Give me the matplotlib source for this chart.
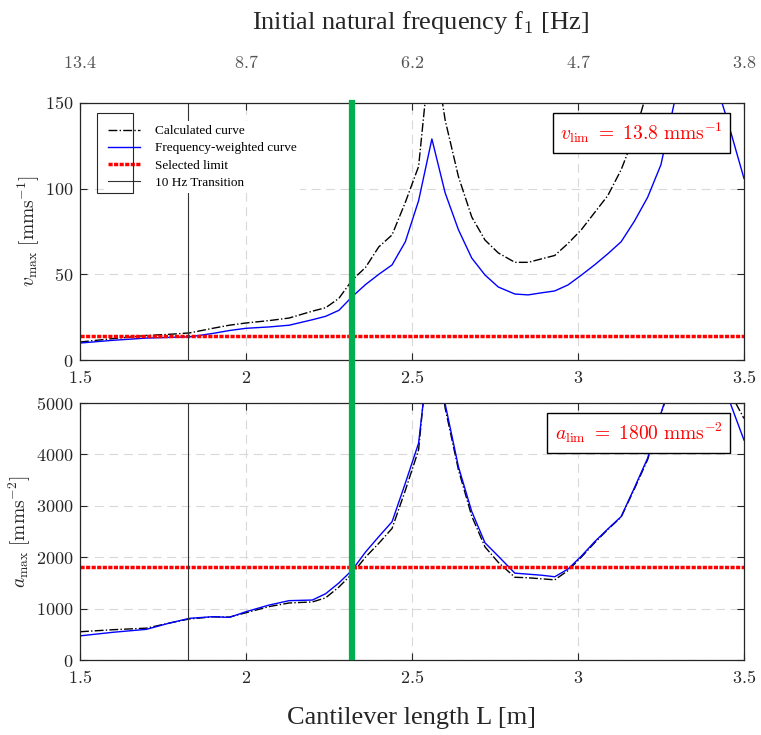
import numpy as np
import matplotlib
matplotlib.use('Agg')
import matplotlib.pyplot as plt
import matplotlib.ticker as ticker
import matplotlib.transforms as mtransforms
from matplotlib.lines import Line2D
from matplotlib.patches import Rectangle

plt.rcParams['font.family'] = ['Liberation Serif', 'DejaVu Serif']
plt.rcParams['mathtext.fontset'] = 'cm'

# Cantilever length [m]
L = [1.50, 1.60, 1.70, 1.77, 1.83, 1.90, 1.95, 2.00, 2.07, 2.13, 2.20, 2.24, 2.28, 2.32,
     2.36, 2.40, 2.44, 2.48, 2.52, 2.56, 2.60, 2.64, 2.68, 2.72, 2.76, 2.81, 2.85, 2.89,
     2.93, 2.97, 3.01, 3.05, 3.09, 3.13, 3.17, 3.21, 3.25, 3.29, 3.33, 3.37, 3.41, 3.45, 3.50]

# peak velocity [mm/s]
v_calc = [10.5, 12.5, 14.3, 15.0, 15.8, 18.5, 20.3, 21.6, 23.0, 24.5, 28.5, 30.5, 36.0, 46.7,
          54.0, 66.0, 73.0, 92.0, 113.0, 190.0, 140.0, 107.0, 83.5, 70.0, 62.5, 57.0, 57.0, 59.0,
          61.0, 68.0, 76.0, 86.0, 96.0, 111.0, 131.0, 158.0, 190.0, 230.0, 260.0, 270.0, 240.0, 200.0, 170.0]
v_weighted = [9.9, 11.5, 12.8, 13.2, 13.5, 15.5, 17.2, 18.5, 19.3, 20.3, 23.5, 25.5, 29.0, 37.0,
              44.0, 50.0, 55.5, 69.0, 93.0, 129.0, 97.5, 76.0, 59.5, 49.6, 42.6, 38.5, 38.0, 39.2,
              40.3, 43.8, 49.5, 55.5, 62.0, 69.0, 81.0, 95.0, 114.0, 150.0, 190.0, 200.0, 165.0, 140.0, 106.0]

# peak acceleration [mm/s^2]
a_calc = [550, 590, 620, 720, 800, 840, 835, 920, 1040, 1110, 1130, 1210, 1420, 1680,
          2000, 2270, 2560, 3300, 4090, 6800, 4900, 3700, 2800, 2200, 1900, 1610, 1600, 1580,
          1560, 1740, 2000, 2280, 2540, 2780, 3330, 3900, 4780, 5600, 6300, 6500, 6000, 5300, 4700]
a_weighted = [470, 540, 597, 720, 811, 843, 830, 940, 1070, 1155, 1167, 1290, 1500, 1750,
              2100, 2400, 2690, 3440, 4220, 6500, 4980, 3760, 2890, 2280, 2020, 1690, 1670, 1650,
              1620, 1770, 2020, 2300, 2550, 2790, 3350, 3930, 4800, 5600, 6200, 6400, 5900, 5150, 4280]

v_lim = 13.8
a_lim = 1800
L_transition = 1.825   # 10 Hz
L_selected = 2.32

x_ticks = [1.5, 2, 2.5, 3, 3.5]
freq_labels = ['13.4', '8.7', '6.2', '4.7', '3.8']

fig = plt.figure(figsize=(7.61, 7.35), dpi=100)
ax1 = fig.add_axes([0.1051, 0.5102, 0.8725, 0.3497])
ax2 = fig.add_axes([0.1051, 0.1020, 0.8725, 0.3497])

mfmt = ticker.FuncFormatter(lambda v, p: f'${v:g}$')

def style_axes(ax, ylim, yticks):
    ax.set_xlim(1.5, 3.5)
    ax.set_ylim(*ylim)
    ax.set_xticks(x_ticks)
    ax.set_yticks(yticks)
    ax.xaxis.set_major_formatter(mfmt)
    ax.yaxis.set_major_formatter(mfmt)
    ax.tick_params(direction='in', top=True, right=True, length=5, width=0.8,
                   labelsize=13, color='#262626', labelcolor='#262626')
    ax.tick_params(axis='x', pad=7)
    ax.tick_params(axis='y', pad=5)
    ax.grid(True, color='#d9d9d9', linestyle=(0, (8, 5)), linewidth=0.8)
    ax.set_axisbelow(True)
    for s in ax.spines.values():
        s.set_color('#262626')
        s.set_linewidth(0.9)

def draw_panel(ax, calc, weighted, lim):
    ax.plot(L, calc, color='black', linestyle='-.', linewidth=1.0, label='Calculated curve')
    ax.plot(L, weighted, color='blue', linewidth=1.0, label='Frequency-weighted curve')
    ax.axhline(lim, color='red', linestyle=(0, (1.2, 0.4)), linewidth=2.5, label='Selected limit')
    ax.axvline(L_transition, color='#333333', linewidth=0.8, label='10 Hz Transition')

draw_panel(ax1, v_calc, v_weighted, v_lim)
draw_panel(ax2, a_calc, a_weighted, a_lim)
style_axes(ax1, (0, 150), [0, 50, 100, 150])
style_axes(ax2, (0, 5000), [0, 1000, 2000, 3000, 4000, 5000])

ax1.set_ylabel(r'$v_{\rm max}\ [{\rm mms}^{-1}]$', fontsize=14, color='#262626', labelpad=2)
ax2.set_ylabel(r'$a_{\rm max}\ [{\rm mms}^{-2}]$', fontsize=14, color='#262626', labelpad=2)

# legend (frame only around the handles, as exported)
leg = ax1.legend(loc='upper left', bbox_to_anchor=(0.027, 0.955), fontsize=9.5,
                 handlelength=2.4, handletextpad=1.1, labelspacing=0.37,
                 frameon=True, fancybox=False, borderpad=0.3)
leg.get_frame().set_edgecolor('none')
leg.get_frame().set_facecolor('white')
leg.get_frame().set_alpha(1)
leg.set_zorder(5)
ax1.add_patch(Rectangle((0.0256, 0.650), 0.054, 0.311, transform=ax1.transAxes,
                        fill=False, edgecolor='#262626', linewidth=0.8, zorder=6))

box = dict(boxstyle='square,pad=0.4', facecolor='white', edgecolor='black', linewidth=1.0)
ax1.text(0.968, 0.883, r'$v_{\rm lim}\ =\ 13.8\ {\rm mms}^{-1}$', transform=ax1.transAxes,
         ha='right', va='center', color='red', fontsize=14, bbox=box, zorder=7)
ax2.text(0.968, 0.883, r'$a_{\rm lim}\ =\ 1800\ {\rm mms}^{-2}$', transform=ax2.transAxes,
         ha='right', va='center', color='red', fontsize=14, bbox=box, zorder=7)

# selected length, spanning both panels
trans = mtransforms.blended_transform_factory(ax1.transData, fig.transFigure)
fig.add_artist(Line2D([L_selected, L_selected], [1 - 103 / 735, 1 - 657 / 735],
                      transform=trans, color='#00b050', linewidth=4.5, zorder=10))

# natural frequency axis on top
sec = ax1.secondary_xaxis('top')
sec.set_xticks(x_ticks)
sec.set_xticklabels(['$' + s + '$' for s in freq_labels])
sec.tick_params(length=0, pad=22, labelsize=13, labelcolor='#555555')
for s in sec.spines.values():
    s.set_visible(False)

fig.text(0.553, 1 - 22 / 735, r'Initial natural frequency f$_1$ [Hz]', ha='center', va='center',
         fontsize=19, color='#262626')
fig.text(0.541, 1 - 718 / 735, 'Cantilever length L [m]', ha='center', va='center',
         fontsize=19, color='#262626')

fig.savefig('out.png', dpi=100)
